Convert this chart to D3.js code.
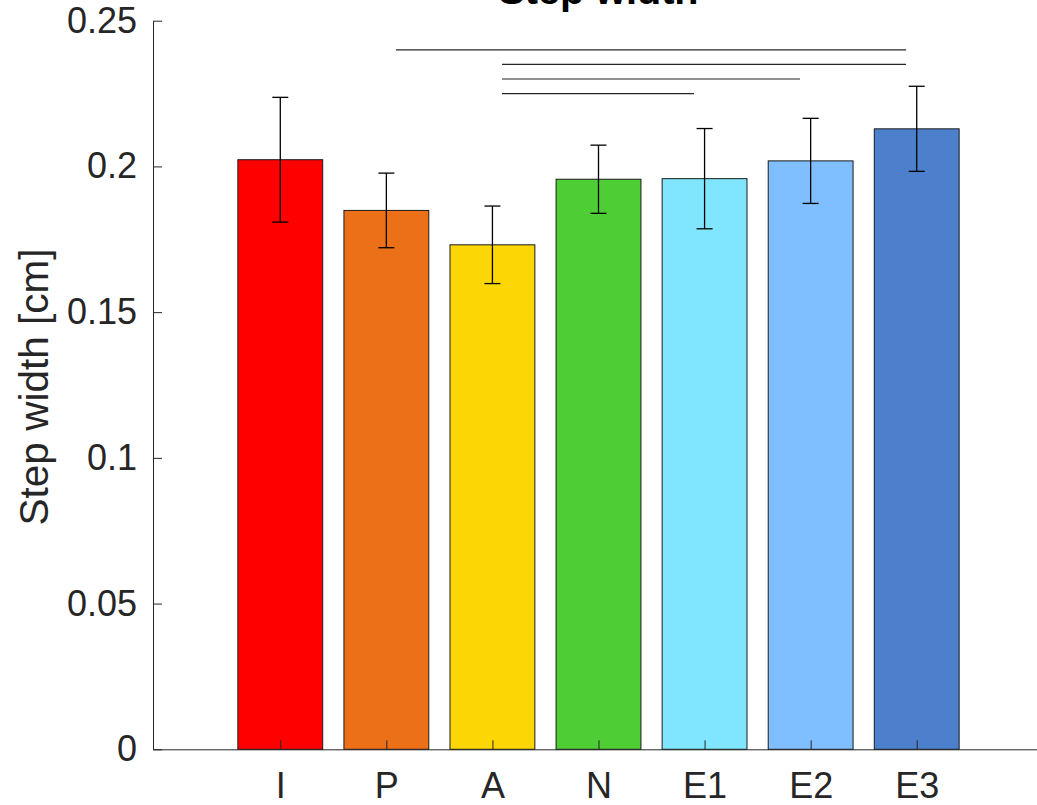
<!DOCTYPE html>
<html>
<head>
<meta charset="utf-8">
<script src="https://cdn.jsdelivr.net/npm/d3@7"></script>
<style>
  body { margin: 0; background: #fff; }
  svg { display: block; font-family: "Liberation Sans", Arial, Helvetica, sans-serif; }
  .axis path, .axis line { stroke: #262626; stroke-width: 1; }
  .axis text { fill: #262626; font-size: 36px; }
</style>
</head>
<body>
<svg id="chart"></svg>
<script>
// data
const categories = ["I", "P", "A", "N", "E1", "E2", "E3"];
const means = [0.2023, 0.1849, 0.1731, 0.1956, 0.1958, 0.2019, 0.2129];
const errors = [0.0214, 0.0128, 0.0133, 0.0117, 0.0172, 0.0146, 0.0146];
const colors = ["#ff0000", "#eb7017", "#fdd605", "#4fcd35", "#80e6ff", "#80bfff", "#4d80cc"];
const yTicks = [0, 0.05, 0.1, 0.15, 0.2, 0.25];
// significance brackets: [from, to, height]
const sigFrom = ["P", "A", "A", "A"];
const sigTo = ["E3", "E3", "E2", "E1"];
const sigY = [0.240, 0.235, 0.230, 0.225];

const width = 1037, height = 805;
const svg = d3.select("#chart").attr("width", width).attr("height", height);

const pos = c => categories.indexOf(c) + 1;

const x = d3.scaleLinear().domain([-0.2, 8.2]).range([153, 1044]);
const y = d3.scaleLinear().domain([0, 0.25]).range([749.3, 20.7]);
const barW = x(0.8) - x(0);

// bars
svg.append("g").selectAll("rect")
  .data(means)
  .join("rect")
    .attr("x", (d, i) => x(i + 1) - barW / 2)
    .attr("y", d => y(d))
    .attr("width", barW)
    .attr("height", d => y(0) - y(d))
    .attr("fill", (d, i) => colors[i])
    .attr("stroke", "#1a1a1a")
    .attr("stroke-width", 1);

// error bars
const eb = svg.append("g").attr("stroke", "#000").attr("stroke-width", 1.3);
means.forEach((m, i) => {
  const cx = x(i + 1);
  eb.append("line").attr("x1", cx).attr("x2", cx).attr("y1", y(m - errors[i])).attr("y2", y(m + errors[i]));
  eb.append("line").attr("x1", cx - 8).attr("x2", cx + 8).attr("y1", y(m + errors[i])).attr("y2", y(m + errors[i]));
  eb.append("line").attr("x1", cx - 8).attr("x2", cx + 8).attr("y1", y(m - errors[i])).attr("y2", y(m - errors[i]));
});

// significance lines
svg.append("g").selectAll("line")
  .data(sigY)
  .join("line")
    .attr("x1", (d, i) => x(pos(sigFrom[i]) + 0.09))
    .attr("x2", (d, i) => x(pos(sigTo[i]) - 0.1))
    .attr("y1", d => y(d))
    .attr("y2", d => y(d))
    .attr("stroke", "#262626")
    .attr("stroke-width", 1.2);

// axes
const xAxis = d3.axisBottom(x)
  .tickValues(categories.map((c, i) => i + 1))
  .tickFormat(d => categories[d - 1])
  .tickSize(-9)
  .tickSizeOuter(0)
  .tickPadding(23);

const yAxis = d3.axisLeft(y)
  .tickValues(yTicks)
  .tickFormat(d3.format("~g"))
  .tickSize(-9)
  .tickSizeOuter(0)
  .tickPadding(16);

svg.append("g")
  .attr("class", "axis x-axis")
  .attr("transform", `translate(0,${y(0)})`)
  .call(xAxis)
  .call(g => g.selectAll("text").attr("font-family", null).attr("font-size", null));

svg.append("g")
  .attr("class", "axis y-axis")
  .attr("transform", `translate(${x(-0.2)},0)`)
  .call(yAxis)
  .call(g => g.selectAll("text").attr("font-family", null).attr("font-size", null));

// title and label
svg.append("text")
  .attr("x", (x(-0.2) + x(8.2)) / 2)
  .attr("y", 3.5)
  .attr("text-anchor", "middle")
  .attr("font-size", 39.6)
  .attr("font-weight", "bold")
  .attr("fill", "#000")
  .text("Step width");

svg.append("text")
  .attr("transform", `translate(48,387) rotate(-90)`)
  .attr("text-anchor", "middle")
  .attr("font-size", 40.5)
  .attr("fill", "#262626")
  .text("Step width [cm]");
</script>
</body>
</html>
